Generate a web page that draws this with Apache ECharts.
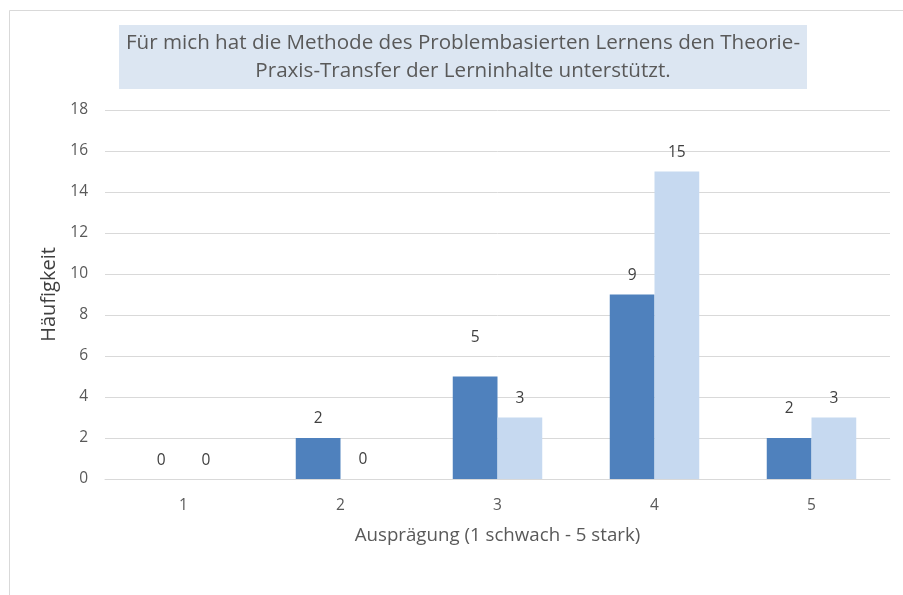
<!DOCTYPE html>
<html>
<head>
<meta charset="utf-8">
<script src="https://cdn.jsdelivr.net/npm/echarts@6/dist/echarts.min.js"></script>
<style>
  html, body { margin: 0; padding: 0; background: #fff; }
  #chart { width: 903px; height: 595px; }
</style>
</head>
<body>
<div id="chart"></div>
<script>
// Ausprägung 1..5
var categories = ["1", "2", "3", "4", "5"];
var seriesA = [0, 2, 5, 9, 2];
var seriesB = [0, 0, 3, 15, 3];
// label distance above bar (labels were moved by hand in the original)
var offsA = [19, 20, 40, 20, 30];
var offsB = [19, 20, 20, 20, 20];

var font = "Open Sans";
var chart = echarts.init(document.getElementById("chart"));

function mk(vals, offs) {
  return vals.map(function (v, i) {
    return { value: v, label: { distance: offs[i] - 9 } };
  });
}

var option = {
  backgroundColor: "#fff",
  textStyle: { fontFamily: font },
  animation: false,
  title: {
    text: "Für mich hat die Methode des Problembasierten Lernens den Theorie-\nPraxis-Transfer der Lerninhalte unterstützt.",
    left: 456,
    textAlign: "center",
    top: 25,
    padding: [4, 7, 4, 7],
    backgroundColor: "#dce6f2",
    textStyle: {
      fontFamily: font,
      fontSize: 20.6,
      fontWeight: "normal",
      color: "#595959",
      lineHeight: 28
    }
  },
  graphic: [{
    type: "rect",
    shape: { x: 9.5, y: 10.5, width: 910, height: 620 },
    style: { fill: null, stroke: "#d9d9d9", lineWidth: 1 },
    silent: true,
    z: -1
  }],
  grid: { left: 105, right: 13, top: 110, bottom: 116 },
  xAxis: {
    type: "category",
    data: categories,
    name: "Ausprägung (1 schwach - 5 stark)",
    nameLocation: "middle",
    nameGap: 47,
    nameTextStyle: { fontSize: 18.7, color: "#595959", fontFamily: font },
    axisLine: { lineStyle: { color: "#d9d9d9" } },
    axisTick: { show: false },
    axisLabel: { fontSize: 15.5, color: "#595959", margin: 19 }
  },
  yAxis: {
    type: "value",
    min: 0,
    max: 18,
    interval: 2,
    name: "Häufigkeit",
    nameLocation: "middle",
    nameGap: 46,
    nameTextStyle: { fontSize: 20, color: "#404040", fontFamily: font },
    axisLine: { show: false },
    axisTick: { show: false },
    splitLine: { lineStyle: { color: "#d9d9d9" } },
    axisLabel: { fontSize: 15.5, color: "#595959", margin: 17 }
  },
  series: [
    {
      type: "bar",
      data: mk(seriesA, offsA),
      barGap: "0%",
      barCategoryGap: "43%",
      itemStyle: { color: "#4f81bd" },
      label: { show: true, position: "top", fontSize: 15.5, color: "#404040" }
    },
    {
      type: "bar",
      data: mk(seriesB, offsB),
      itemStyle: { color: "#c6d9f0" },
      label: { show: true, position: "top", fontSize: 15.5, color: "#404040" }
    }
  ]
};
chart.setOption(option);
</script>
</body>
</html>
